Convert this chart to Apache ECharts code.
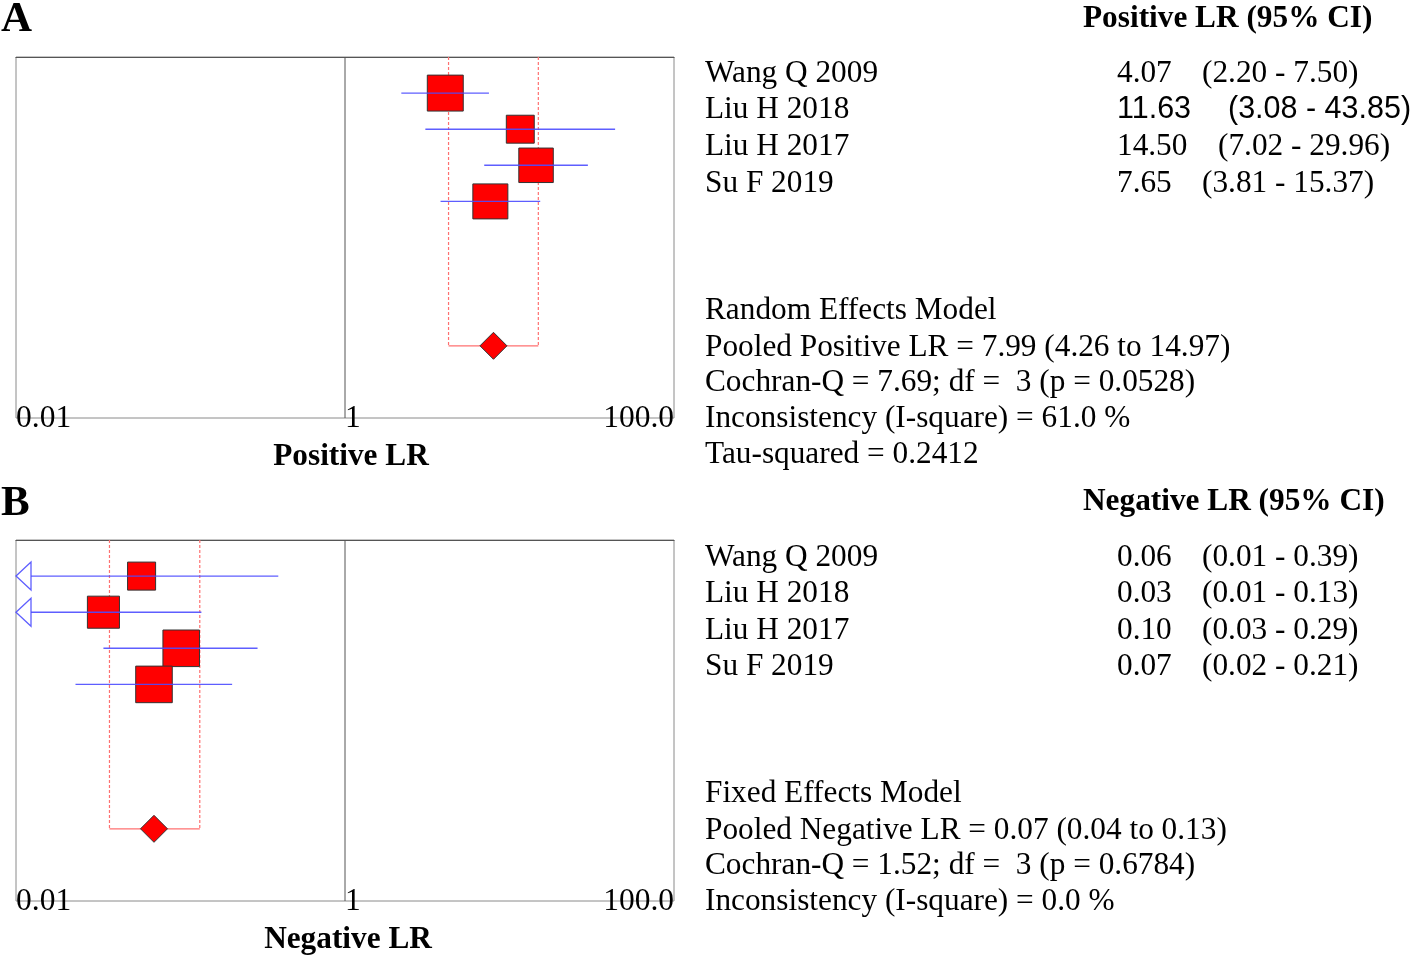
<!DOCTYPE html>
<html><head><meta charset="utf-8">
<script src="https://cdn.jsdelivr.net/npm/echarts@6/dist/echarts.min.js"></script>
<style>html,body{margin:0;padding:0;background:#fff}#c{width:1416px;height:957px}</style>
</head><body><div id="c"></div>
<script>
// ---- data ----
const studies = ['Wang Q 2009', 'Liu H 2018', 'Liu H 2017', 'Su F 2019'];
const posLR = [4.07, 11.63, 14.50, 7.65];
const posLo = [2.20, 3.08, 7.02, 3.81];
const posHi = [7.50, 43.85, 29.96, 15.37];
const posWeight = [28.8, 17.4, 26.5, 27.3];
const posPooled = [7.99, 4.26, 14.97];
const posStats = ['7.69', '3', '0.0528', '61.0', '0.2412'];
const negLR = [0.058, 0.034, 0.101, 0.069];
const negLo = [0.01, 0.01, 0.034, 0.023];
const negHi = [0.393, 0.134, 0.294, 0.206];
const negWeight = [17.5, 22.9, 29.8, 29.8];
const negPooled = [0.069, 0.037, 0.131];
const negStats = ['1.52', '3', '0.6784', '0.0'];
const xTicks = [0.01, 1, 100];
const xTickLabels = ['0.01', '1', '100.0'];

// ---- chart ----
const XMIN = 0.01, XMAX = 100, K = 6.7, POOL_ROW = 8;
const SERIF = '"Liberation Serif","Times New Roman",serif';
const SANS = '"Liberation Sans",Arial,sans-serif';
const BLUE = '#4d4dff';
const DY = 3;

function studyRender(params, api) {
  const est = api.value(0), lo = api.value(1), hi = api.value(2), row = api.value(3), w = api.value(4);
  const c = api.coord([est, row]);
  const loClip = lo <= XMIN;
  const p1 = api.coord([Math.max(lo, XMIN), row]);
  const p2 = api.coord([Math.min(hi, XMAX), row]);
  const side = K * Math.sqrt(w);
  const children = [{
    type: 'rect',
    shape: {x: c[0] - side / 2, y: c[1] - side / 2, width: side, height: side},
    style: {fill: '#ff0000', stroke: '#333', lineWidth: 1}
  }];
  const x1 = loClip ? p1[0] + 15 : p1[0];
  children.push({type: 'line', shape: {x1: x1, y1: c[1], x2: p2[0], y2: c[1]},
    style: {stroke: BLUE, lineWidth: 1.4, opacity: 0.9}});
  if (loClip) {
    children.push({type: 'polygon',
      shape: {points: [[p1[0], c[1]], [p1[0] + 15, c[1] - 14], [p1[0] + 15, c[1] + 14]]},
      style: {fill: 'none', stroke: BLUE, lineWidth: 1.3, opacity: 0.9}});
  }
  return {type: 'group', children: children};
}

function pooledRender(params, api) {
  const est = api.value(0), lo = api.value(1), hi = api.value(2), row = api.value(3);
  const lt = api.coord([lo, 0]), lb = api.coord([lo, row]);
  const rt = api.coord([hi, 0]), rb = api.coord([hi, row]);
  const c = api.coord([est, row]);
  const h = 13.5;
  const red = '#ff7070';
  return {type: 'group', children: [
    {type: 'line', shape: {x1: lt[0], y1: lt[1], x2: lb[0], y2: lb[1]}, style: {stroke: red, lineWidth: 1.2, lineDash: [3, 2]}},
    {type: 'line', shape: {x1: rt[0], y1: rt[1], x2: rb[0], y2: rb[1]}, style: {stroke: red, lineWidth: 1.2, lineDash: [3, 2]}},
    {type: 'line', shape: {x1: lb[0], y1: lb[1], x2: rb[0], y2: rb[1]}, style: {stroke: red, lineWidth: 1.2}},
    {type: 'polygon', shape: {points: [[c[0] - h, c[1]], [c[0], c[1] - h], [c[0] + h, c[1]], [c[0], c[1] + h]]},
      style: {fill: '#ff0000', stroke: '#333', lineWidth: 1}}
  ]};
}

function tickLabel(v) {
  const i = xTicks.findIndex(t => Math.abs(Math.log10(t) - Math.log10(v)) < 1e-6);
  return i >= 0 ? xTickLabels[i] : '';
}

function xAxisDef(idx) {
  return {
    type: 'log', logBase: 10, gridIndex: idx, min: XMIN, max: XMAX,
    axisLine: {show: true, lineStyle: {color: '#555', width: 1.2}},
    axisTick: {show: false},
    splitLine: {show: false},
    axisLabel: {
      show: true, formatter: tickLabel, color: '#000', fontFamily: SERIF, fontSize: 31.5,
      margin: 1, verticalAlign: 'middle', align: 'left', alignMinLabel: 'left', alignMaxLabel: 'right',
      showMinLabel: true, showMaxLabel: true, hideOverlap: false
    }
  };
}
function yAxisDef(idx) {
  return {type: 'value', gridIndex: idx, min: 0, max: 10, inverse: true, show: false};
}

function studyData(est, lo, hi, w) {
  return est.map((v, i) => [v, lo[i], hi[i], i + 1, w[i]]);
}

function panelSeries(idx, est, lo, hi, w, pooled) {
  return [
    {type: 'line', xAxisIndex: idx, yAxisIndex: idx, data: [[1, 0], [1, 10]], symbol: 'none', silent: true,
      lineStyle: {color: '#555', width: 1}, z: 1},
    {type: 'custom', xAxisIndex: idx, yAxisIndex: idx, renderItem: pooledRender,
      encode: {x: [0, 1, 2], y: 3}, data: [[pooled[0], pooled[1], pooled[2], POOL_ROW]], z: 2, silent: true},
    {type: 'custom', xAxisIndex: idx, yAxisIndex: idx, renderItem: studyRender,
      encode: {x: [0, 1, 2], y: 3}, data: studyData(est, lo, hi, w), z: 3, silent: true}
  ];
}

const texts = [];
function t(text, x, y, opt) {
  opt = opt || {};
  texts.push({type: 'text', x: x, y: y + DY, silent: true, style: {
    text: text, fill: '#000',
    font: (opt.bold ? 'bold ' : '') + (opt.size || 31.3) + 'px ' + (opt.family || SERIF),
    textAlign: opt.align || 'left', textVerticalAlign: 'middle'
  }});
}
const f2 = v => v.toFixed(2);

// Panel A texts
t('A', 1, 17, {bold: true, size: 43});
t('Positive LR (95% CI)', 1083, 16, {bold: true});
const ciXA = [1202, 1228, 1218, 1202];
const rowYA = [71, 107, 144, 181];
studies.forEach((s, i) => {
  t(s, 705, rowYA[i]);
  const fam = i === 1 ? SANS : SERIF;
  const sz = i === 1 ? 30.5 : 31.3;
  t(f2(posLR[i]), 1117, rowYA[i], {family: fam, size: sz});
  t('(' + f2(posLo[i]) + ' - ' + f2(posHi[i]) + ')', ciXA[i], rowYA[i], {family: fam, size: sz});
});
t('Random Effects Model', 705, 308);
t('Pooled Positive LR = ' + f2(posPooled[0]) + ' (' + f2(posPooled[1]) + ' to ' + f2(posPooled[2]) + ')', 705, 345);
t('Cochran-Q = ' + posStats[0] + '; df =  ' + posStats[1] + ' (p = ' + posStats[2] + ')', 705, 380);
t('Inconsistency (I-square) = ' + posStats[3] + ' %', 705, 416);
t('Tau-squared = ' + posStats[4], 705, 452);
t('Positive LR', 351, 454, {bold: true, align: 'center'});

// Panel B texts
t('B', 1, 501, {bold: true, size: 43});
t('Negative LR (95% CI)', 1083, 499, {bold: true});
const rowYB = [555, 591, 628, 664];
studies.forEach((s, i) => {
  t(s, 705, rowYB[i]);
  t(f2(negLR[i]), 1117, rowYB[i]);
  t('(' + f2(negLo[i]) + ' - ' + f2(negHi[i]) + ')', 1202, rowYB[i]);
});
t('Fixed Effects Model', 705, 791);
t('Pooled Negative LR = ' + f2(negPooled[0]) + ' (' + f2(negPooled[1]) + ' to ' + f2(negPooled[2]) + ')', 705, 828);
t('Cochran-Q = ' + negStats[0] + '; df =  ' + negStats[1] + ' (p = ' + negStats[2] + ')', 705, 863);
t('Inconsistency (I-square) = ' + negStats[3] + ' %', 705, 899);
t('Negative LR', 348, 937, {bold: true, align: 'center'});

const chart = echarts.init(document.getElementById('c'), null, {renderer: 'canvas'});
chart.setOption({
  backgroundColor: '#fff',
  animation: false,
  grid: [
    {left: 16, top: 57, width: 658, height: 361, show: true, borderColor: '#8a8a8a', borderWidth: 1, backgroundColor: 'transparent'},
    {left: 16, top: 540, width: 658, height: 361, show: true, borderColor: '#8a8a8a', borderWidth: 1, backgroundColor: 'transparent'}
  ],
  xAxis: [xAxisDef(0), xAxisDef(1)],
  yAxis: [yAxisDef(0), yAxisDef(1)],
  series: panelSeries(0, posLR, posLo, posHi, posWeight, posPooled)
    .concat(panelSeries(1, negLR, negLo, negHi, negWeight, negPooled)),
  graphic: texts
});
</script>
</body></html>
